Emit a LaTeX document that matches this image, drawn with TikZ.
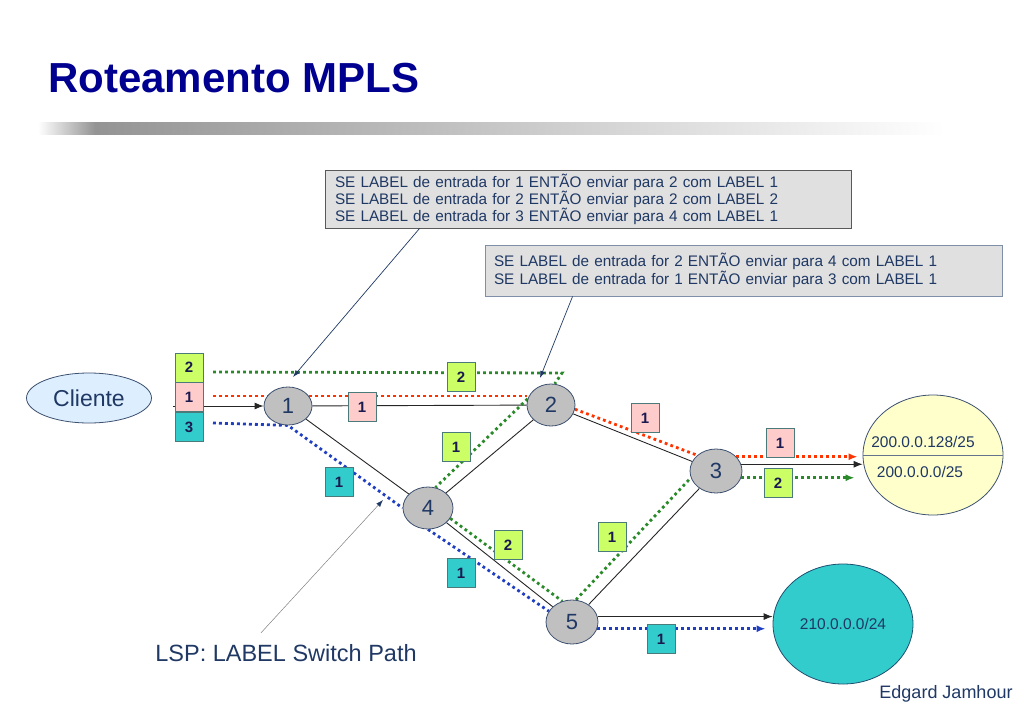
\documentclass[tikz,border=0pt]{standalone}
\usepackage{fontspec}
\setmainfont{Liberation Sans}
\usepackage{xcolor}
\usepackage{tikz}
\usetikzlibrary{shapes.geometric, arrows.meta, positioning, backgrounds}
\definecolor{titleBlue}{HTML}{000090}
\definecolor{textNavy}{HTML}{1F3864}
\definecolor{labelText}{HTML}{1A1A50}
\definecolor{nodeGray}{HTML}{C0C0C0}
\definecolor{rimBlue}{HTML}{3C5070}
\definecolor{labelGreen}{HTML}{CCFF66}
\definecolor{labelPink}{HTML}{FFCCCC}
\definecolor{labelTeal}{HTML}{33CCCC}
\definecolor{labelRim}{HTML}{4A7A7A}
\definecolor{pathRed}{HTML}{FF3300}
\definecolor{pathGreen}{HTML}{2A8A2A}
\definecolor{pathBlue}{HTML}{1F3FC0}
\definecolor{boxGray}{HTML}{E0E0E0}
\definecolor{clientBlue}{HTML}{DDEEFF}
\definecolor{netYellow}{HTML}{FFFFCC}
\tikzset{>={Latex[length=9pt,width=7pt]}}
\tikzset{link-line/.style={line width=0.9pt, color=black!85}}
\tikzset{lsr-node/.style={draw=rimBlue, fill=nodeGray, ellipse, inner sep=0, line width=0.8pt,
    text=textNavy, font=\fontsize{22}{22}\selectfont}}
\tikzset{lbl-box/.style={draw=labelRim, line width=0.8pt, minimum width=28pt, minimum height=29pt,
    inner sep=0, text=labelText, font=\fontsize{15}{15}\selectfont\bfseries}}
\tikzset{lsp-path/.style={line width=2.8pt, dash pattern=on 2.8pt off 3.2pt}}
\tikzset{rule-box/.style={fill=boxGray, line width=0.9pt, align=left, inner ysep=3pt, text=textNavy}}
\tikzset{call-arrow/.style={-{Latex[length=7pt,width=5pt]}, line width=0.7pt, color=textNavy}}
\tikzset{net-text/.style={text=textNavy, font=\fontsize{15.5}{16}\selectfont}}

\begin{document}
\begin{tikzpicture}[x=1pt, y=-1pt]
    \useasboundingbox (0,0) rectangle (1024,709);

    % title and bar
    \node[anchor=base west, inner sep=0, text=titleBlue, font=\fontsize{42}{42}\selectfont\bfseries] (title) at (48,92) {Roteamento MPLS};
    \shade[left color=white, right color=black!42] (38,122) rectangle (95,134);
    \shade[left color=black!42, right color=white] (95,122) rectangle (945,134);

    % rule boxes
    \node[rule-box, draw=black!65, text width=506pt, inner xsep=10pt, minimum height=58pt,
          font=\fontsize{15.3}{17}\selectfont] (rules1) at (588,199)
        {SE LABEL de entrada for 1 ENTÃO enviar para 2 com LABEL 1\\
         SE LABEL de entrada for 2 ENTÃO enviar para 2 com LABEL 2\\
         SE LABEL de entrada for 3 ENTÃO enviar para 4 com LABEL 1};
    \node[rule-box, draw={rgb,255:red,127;green,143;blue,168}, text width=499pt, inner xsep=9pt, minimum height=51pt,
          font=\fontsize{15.3}{18}\selectfont] (rules2) at (743.5,270.5)
        {SE LABEL de entrada for 2 ENTÃO enviar para 4 com LABEL 1\\
         SE LABEL de entrada for 1 ENTÃO enviar para 3 com LABEL 1};

    % endpoints
    \node[draw=rimBlue, fill=clientBlue, ellipse, minimum width=125pt, minimum height=50pt, inner sep=0,
          line width=0.8pt, text=textNavy, font=\fontsize{23}{23}\selectfont] (client) at (89,398) {Cliente};
    \node[draw=rimBlue, fill=netYellow, ellipse, minimum width=140pt, minimum height=120pt, inner sep=0,
          line width=0.8pt] (dest) at (933,455) {};
    \draw[color=rimBlue!80, line width=1pt] (dest.west) -- (dest.east);
    \node[net-text] (destHi) at (923,442) {200.0.0.128/25};
    \node[net-text] (destLo) at (920,472) {200.0.0.0/25};
    \node[draw={rgb,255:red,31;green,79;blue,111}, fill=labelTeal, ellipse, minimum width=140pt, minimum height=120pt,
          inner sep=0, line width=0.8pt, net-text] (net) at (843,624) {210.0.0.0/24};

    % routers
    \node[lsr-node, minimum width=48pt, minimum height=38pt] (n1) at (288,406) {1};
    \node[lsr-node, minimum width=48pt, minimum height=42pt] (n2) at (551,405) {2};
    \node[lsr-node, minimum width=52pt, minimum height=44pt] (n3) at (716,471) {3};
    \node[lsr-node, minimum width=50pt, minimum height=42pt] (n4) at (428,508) {4};
    \node[lsr-node, minimum width=52pt, minimum height=44pt] (n5) at (572,622) {5};

    % incoming label stack
    \node[lbl-box, fill=labelGreen] (stack2) at (189,367.5) {2};
    \node[lbl-box, fill=labelPink, below=0pt of stack2] (stack1) {1};
    \node[lbl-box, fill=labelTeal, below=0pt of stack1] (stack3) {3};

    % labels on the links
    \foreach \nm/\px/\py/\col/\txt in {lTop/461/377/labelGreen/2, l12/362/407/labelPink/1,
            l14/339/482/labelTeal/1, l42/456/447/labelGreen/1, l23/645/418/labelPink/1,
            l45g/508/545/labelGreen/2, l45b/461/573/labelTeal/1, l53/612/537/labelGreen/1,
            l3r/780/443/labelPink/1, l3g/778/483/labelGreen/2, l5b/661/639/labelTeal/1}
        \node[lbl-box, fill=\col] (\nm) at (\px,\py) {\txt};

    \coordinate (cIn) at (173,406);
    \coordinate (gIn) at (213,372);
    \coordinate (gTurn) at (562,373);
    \coordinate (rIn) at (213,396);
    \coordinate (bIn) at (213,423);

    \begin{pgfonlayer}{background}
        % physical links
        \draw[->, link-line] (cIn) -- (n1);
        \draw[link-line] (n1) -- (n2);
        \draw[link-line] (n1) -- (n4);
        \draw[link-line] (n4) -- (n2);
        \draw[link-line] (n2) -- (n3);
        \draw[link-line] (n4) -- (n5);
        \draw[link-line] (n5) -- (n3);
        \draw[->, link-line] (n3.15) -- (n3.15 -| dest.west);
        \draw[->, link-line] (n5.12) -- (n5.12 -| net.west);

        % label switched paths
        \draw[lsp-path, pathGreen] (gIn) -- (gTurn) -- (n2.80);
        \draw[lsp-path, pathGreen] (n2.165) -- (n4.70);
        \draw[lsp-path, pathGreen] (n4.-25) -- (n5.115);
        \draw[lsp-path, pathGreen] (n5.80) -- (n3.195);
        \draw[lsp-path, pathGreen, ->, shorten >=8pt] (n3.-15) -- (n3.-15 -| dest.west);

        \draw[lsp-path, pathRed] (rIn) -- (rIn -| n2.west);
        \draw[lsp-path, pathRed] (n2.-10) -- (n3.140);
        \draw[lsp-path, pathRed, ->, shorten >=5pt] (n3.35) -- (n3.35 -| dest.west);

        \draw[lsp-path, pathBlue] (bIn) -- (n1.south) -- (n4.west);
        \draw[lsp-path, pathBlue] (n4.south) -- (n5.155);
        \draw[lsp-path, pathBlue, ->, shorten >=7pt] (n5.-15) -- (n5.-15 -| net.west);
    \end{pgfonlayer}

    % callouts
    \coordinate (tip1) at (293,377);
    \coordinate (tip2) at (540,378);
    \draw[call-arrow] ([xshift=95pt]rules1.south west) -- (tip1);
    \draw[call-arrow] ([xshift=88pt]rules2.south west) -- (tip2);

    \node[text=textNavy, font=\fontsize{23.5}{24}\selectfont] (lspText) at (286,653) {LSP: LABEL Switch Path};
    \coordinate (tip3) at (383,500);
    \draw[-{Latex[length=7pt,width=5pt,color=textNavy]}, color=gray, line width=0.5pt]
        ([xshift=-25pt, yshift=8pt]lspText.north) -- (tip3);

    \node[text=textNavy, font=\fontsize{18}{18}\selectfont] (author) at (946,694) {Edgard Jamhour};
\end{tikzpicture}
\end{document}
